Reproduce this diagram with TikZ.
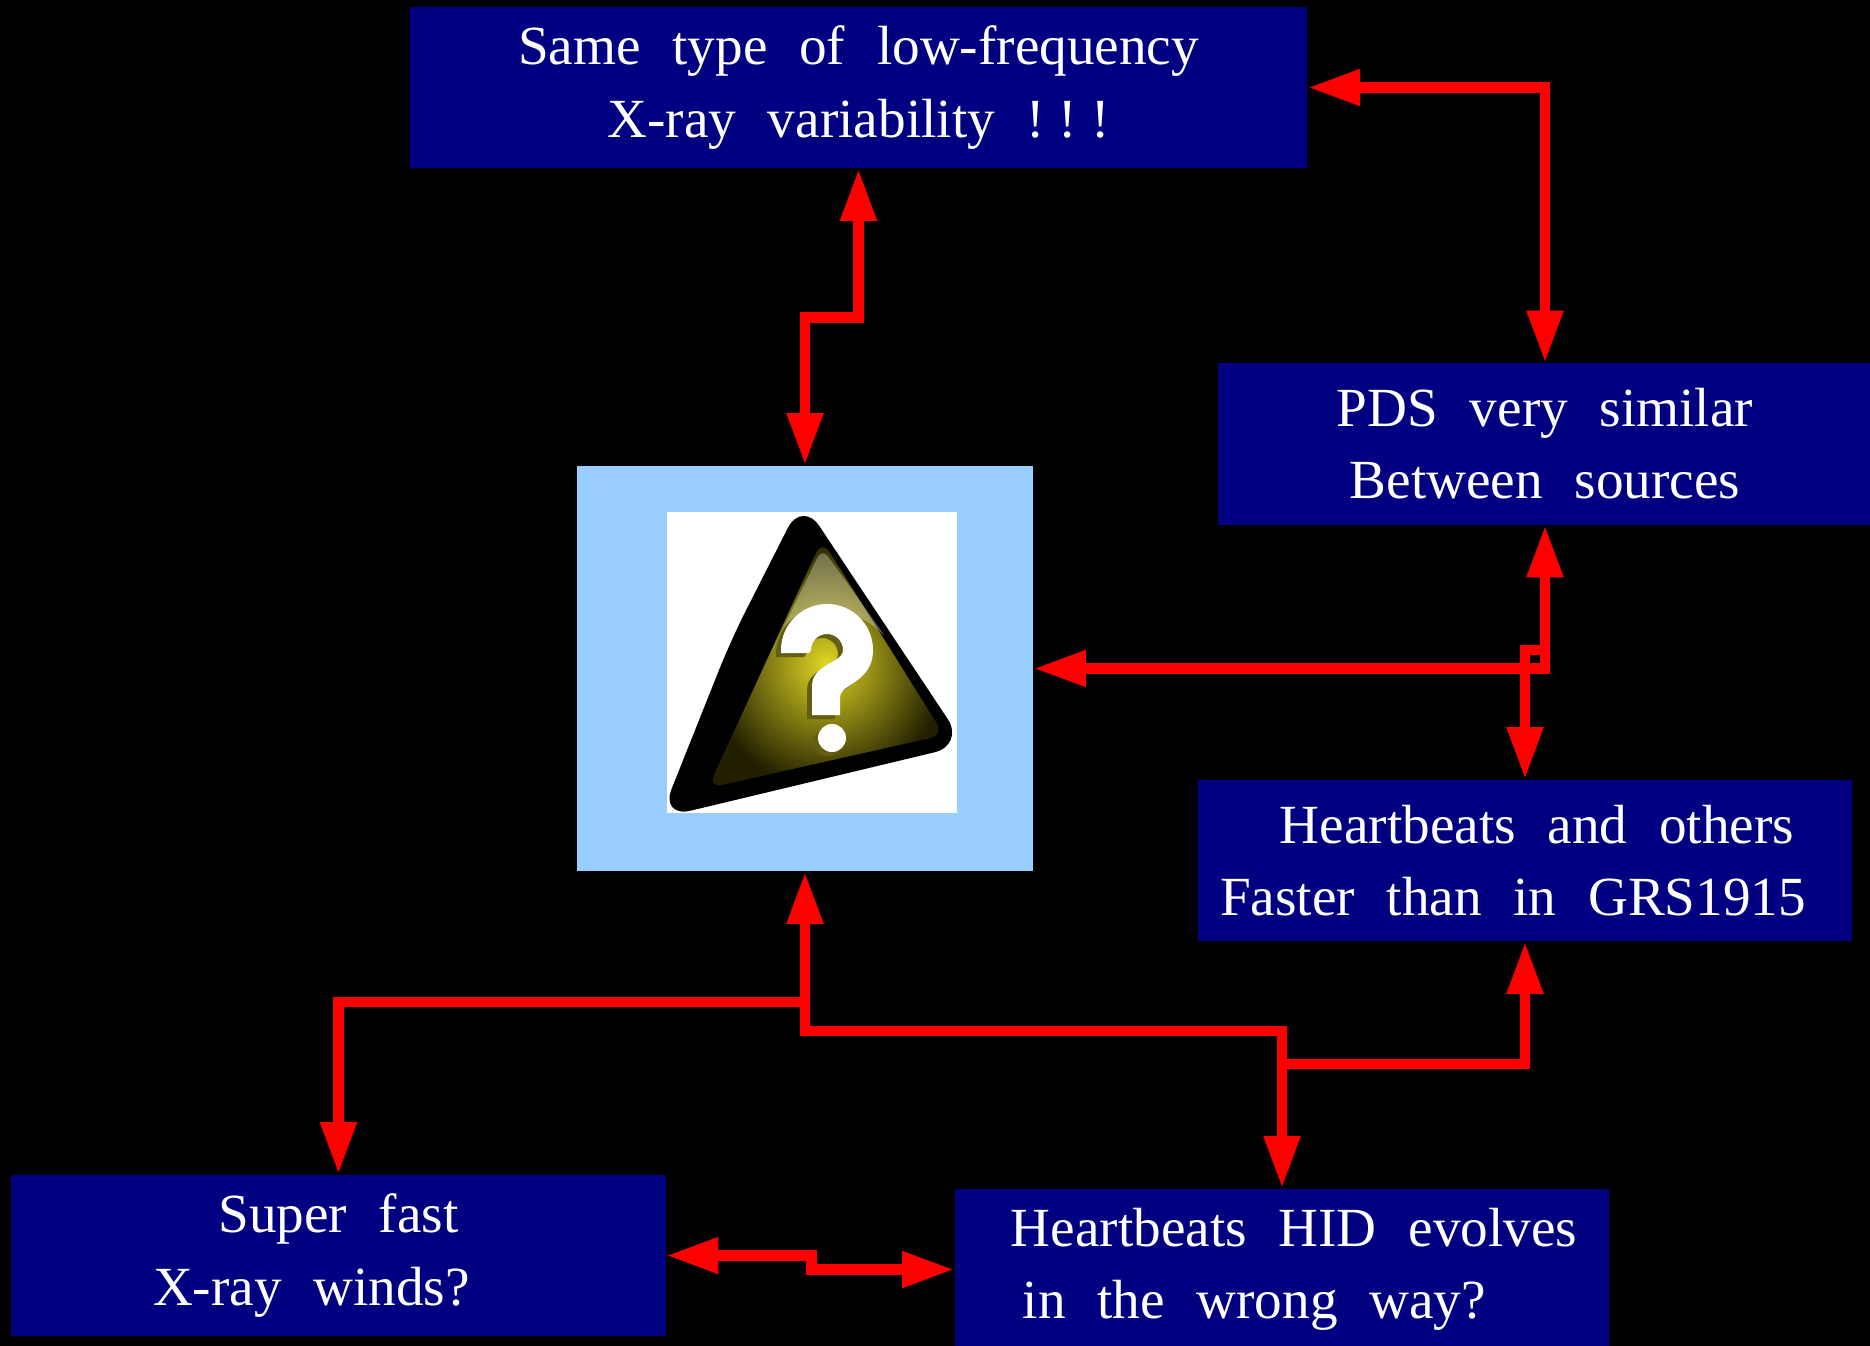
\documentclass[tikz,border=0pt]{standalone}
\usepackage{fontspec}
\setmainfont{Liberation Serif}[WordSpace=2.3]
\usetikzlibrary{arrows.meta,positioning}
\definecolor{boxnavy}{RGB}{0,0,128}
\definecolor{framesky}{RGB}{153,204,255}
\definecolor{linkred}{RGB}{255,0,0}
\definecolor{signglow}{RGB}{224,214,36}
\definecolor{signdark}{RGB}{34,32,0}
\definecolor{signshade}{RGB}{100,94,16}
% empty box used to indent a line
\newcommand\pad[1]{\hbox to #1{}}
\tikzset{
  box/.style={fill=boxnavy, text=white, align=center, inner sep=0pt,
    minimum width=6.54cm, minimum height=1.61cm,
    font=\fontsize{15.7}{20.5}\selectfont,
    execute at begin node={\rule{0pt}{0.48cm}}},
  link/.style={draw=linkred, line width=3pt, >={Triangle[length=14.8pt,width=9.7pt]}},
  % question mark of the sign, hook and dot
  qhook/.pic={
    \fill (781,650) .. controls (781,624.6) and (801.6,604) .. (827,604)
          .. controls (852.4,604) and (873,624.6) .. (873,650)
          .. controls (873,672) and (858,680) .. (846,688)
          .. controls (840,692) and (840,696) .. (840,700) -- (840,715) -- (812,715) -- (812,686)
          .. controls (812,673) and (822,668) .. (832,662)
          .. controls (840,657) and (843,655) .. (843,650)
          .. controls (843,641.2) and (835.8,634) .. (827,634)
          .. controls (818.2,634) and (811,641.2) .. (811,650) -- (809,653) -- (781,653) -- cycle;
    \fill (832,738) circle[radius=0.14cm];
  },
}

\begin{document}
\begin{tikzpicture}[x=0.01cm,y=-0.01cm]
  \fill[black] (0,0) rectangle (1870,1346);
  \useasboundingbox (0,0) rectangle (1870,1346);
  % ---- text boxes
  \node[box,minimum width=8.97cm] (lowfreq) at (858.5,87.5)
       {Same type of low-frequency\\X-ray variability !\kern.25em!\kern.25em!};
  \node[box] (pds) at (1545,444) {PDS very similar\\Between sources};
  \node[box] (hbeats) at (1525,860.5) {\pad{0.24cm}Heartbeats and others\\Faster than in GRS1915\pad{0.24cm}};
  \node[box] (winds) at (338.5,1255.5) {Super fast\\X-ray winds?\pad{0.54cm}};
  \node[box,align=left] (hid) at (1282,1269.5) {\pad{0.24cm}Heartbeats HID evolves\\\pad{0.36cm}in the wrong way?};
  % ---- warning sign in the middle
  \node[fill=framesky, minimum width=4.56cm, minimum height=4.05cm, inner sep=0pt] (puzzle) at (805,668.5) {};
  \fill[white] (667,512) rectangle (957,813);
  \fill[black, rounded corners=9pt] (802,500) -- (731,640) -- (660,818) -- (965,745) -- cycle;
  \shade[inner color=signglow, outer color=signdark, rounded corners=4pt]
        (822,540) -- (708,788) -- (944,735) -- cycle;
  \fill[white, opacity=0.3, rounded corners=3pt]
        (822,548) -- (768,660) .. controls (790,610) and (850,600) .. (888,640) -- cycle;
  \pic[color=signshade] at (-5,4) {qhook};
  \pic[color=white] at (0,0) {qhook};
  % ---- links
  \draw[link,<->] (lowfreq.south) -- ++(0,149) -| (puzzle.north);
  \draw[link,<->] (lowfreq.east) -| (pds.north);
  \draw[link,<->] (puzzle.east) -| (pds.south);
  \draw[link,->] (pds.south |- 0,650) -| (hbeats.north);
  \draw[link,<->] (puzzle.south) -- ++(0,130) -| (winds.north);
  \draw[link,->] (puzzle.south) ++(0,130) -- ++(0,29) -| (hid.north);
  \draw[link,->] (hid.north |- 0,1064) -| (hbeats.south);
  \draw[link,<->] (winds.east) -- ++(145,0) |- (hid.west);
\end{tikzpicture}
\end{document}
